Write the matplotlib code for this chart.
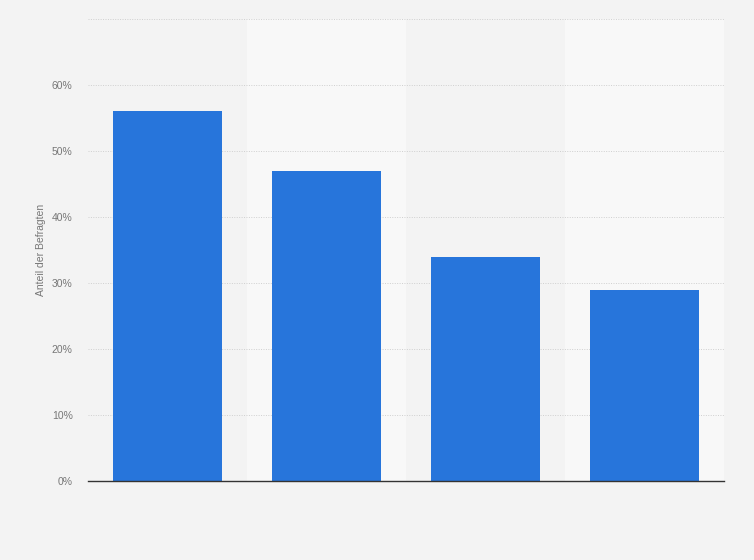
import matplotlib
matplotlib.use("Agg")
import numpy as np
from matplotlib import pyplot as plt

plt.rcParams["font.family"] = ["Liberation Sans", "DejaVu Sans"]

# data
categories = ["", "", "", ""]
values = [56, 47, 34, 29]
y_ticks = [0, 10, 20, 30, 40, 50, 60, 70]
y_tick_labels = ["0%", "10%", "20%", "30%", "40%", "50%", "60%", ""]

bg = "#f3f3f3"
band_light = "#f8f8f8"
bar_color = "#2775db"

fig = plt.figure(figsize=(7.54, 5.6), dpi=100, facecolor=bg)
ax = fig.add_axes([88 / 754, 1 - 481 / 560, 636 / 754, 462 / 560])
ax.set_facecolor(bg)

x = np.arange(len(categories))
# alternating column bands
for i in x:
    ax.axvspan(i - 0.5, i + 0.5, color=bg if i % 2 == 0 else band_light, zorder=0, lw=0)

ax.set_ylim(0, 70)
ax.set_xlim(-0.5, len(categories) - 0.5)
ax.set_yticks(y_ticks)
ax.set_yticklabels(y_tick_labels)
ax.yaxis.grid(True, linestyle=(0, (1, 1.5)), color="#cfcfcf", lw=0.7, zorder=1)
ax.set_axisbelow(True)

ax.bar(x, values, width=0.686, color=bar_color, zorder=2)

ax.set_xticks(x)
ax.set_xticklabels(categories)
ax.tick_params(axis="both", length=0, colors="#777777", labelsize=7.5)
ax.tick_params(axis="y", pad=11)

for s in ["top", "right", "left"]:
    ax.spines[s].set_visible(False)
ax.spines["bottom"].set_color("#333333")
ax.spines["bottom"].set_linewidth(1.0)
ax.spines["bottom"].set_zorder(3)

ax.set_ylabel("Anteil der Befragten", fontsize=7.5, color="#777777", labelpad=4)

fig.savefig("out.png", dpi=100, facecolor=bg)
